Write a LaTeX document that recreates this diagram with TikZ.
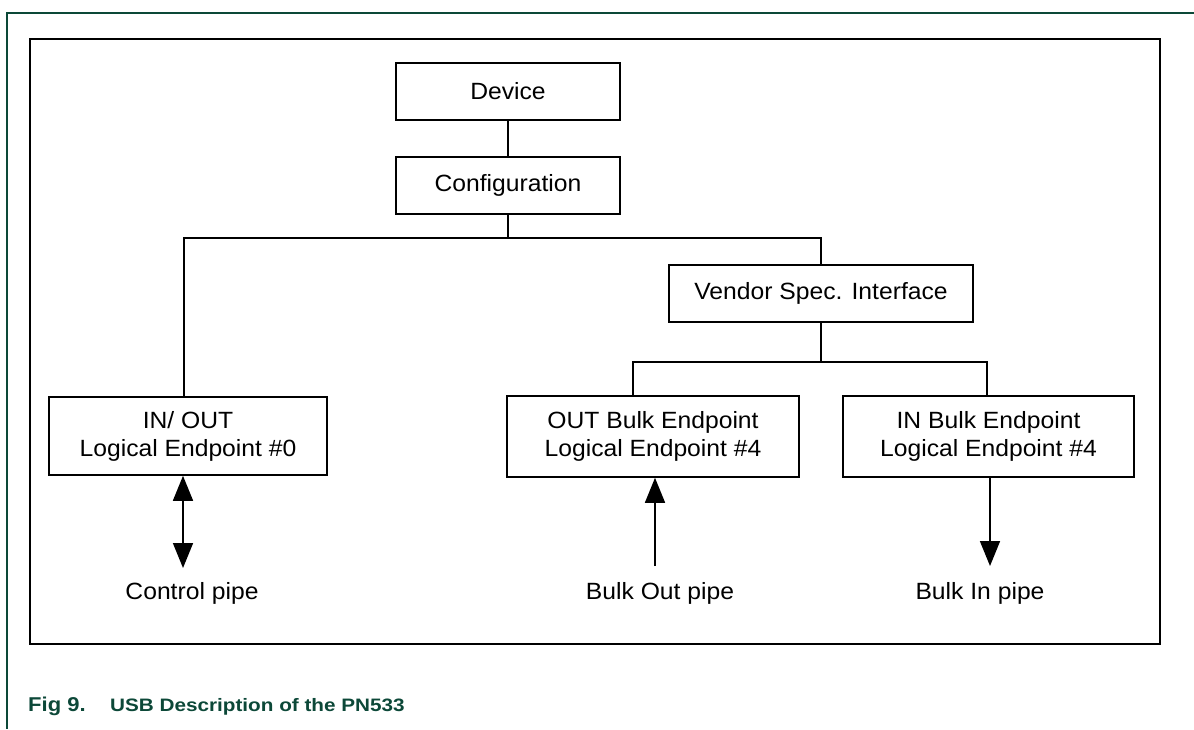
\documentclass[tikz,border=0pt]{standalone}
\usepackage{fontspec}
\setmainfont{Liberation Sans}
\newfontfamily\boxfont[FakeStretch=1.05]{Liberation Sans}
\newfontfamily\figfont[FakeStretch=1.1]{Liberation Sans}
\newfontfamily\capfont[FakeStretch=1.15]{Liberation Sans}
\usetikzlibrary{arrows.meta,positioning,calc}
\definecolor{nxpgreen}{RGB}{12,72,56}
\tikzset{
  usbbox/.style={draw,rectangle,line width=1.6pt,inner sep=0pt,align=center,
    font=\boxfont\fontsize{23.5}{28}\selectfont},
  pipelabel/.style={inner sep=0pt,font=\boxfont\fontsize{23.5}{28}\selectfont},
  link/.style={line width=1.6pt},
  figline/.style={draw=nxpgreen,line width=1.2pt}
}

\begin{document}
\begin{tikzpicture}[x=1pt,y=-1pt,>={Triangle[width=20pt,length=25pt]}]
\useasboundingbox (0,0) rectangle (1194,729);
\draw[figline] (1194,13) -- (7,13) -- (7,729);
\draw[line width=2.6pt] (30,39) rectangle (1160,644);

\node[usbbox,minimum width=224pt,minimum height=57pt] (dev) at (508,91.5) {Device};
\node[usbbox,minimum width=224pt,minimum height=57pt] (conf) at (508,185.5) {Configuration};
\node[usbbox,minimum width=304pt,minimum height=57pt] (vend) at (821,293.5) {Vendor Spec. Interface};
\node[usbbox,minimum width=278pt,minimum height=78pt] (ep0) at (188,436) {IN/ OUT\\Logical Endpoint \#0};
\node[usbbox,minimum width=292pt,minimum height=81pt] (epout) at (653,436.5) {OUT Bulk Endpoint\\Logical Endpoint \#4};
\node[usbbox,minimum width=291pt,minimum height=81pt] (epin) at (988.5,436.5) {IN Bulk Endpoint\\Logical Endpoint \#4};

\node[pipelabel] (ctl) at (192,593) {Control pipe};
\node[pipelabel] (bout) at (660,593) {Bulk Out pipe};
\node[pipelabel] (bin) at (980,593) {Bulk In pipe};

\coordinate (j1) at (508,238);
\coordinate (j2) at (821,362);
\coordinate (ctltip) at (183,568);
\coordinate (bouttail) at (655,566);
\coordinate (bintip) at (990,566);

\path[link]
(dev) edge (conf)
(conf) edge (j1)
(vend) edge (j2);
\draw[link] ([xshift=-4pt]ep0.north) |- (j1) -| (vend.north);
\draw[link] ([xshift=-20pt]epout.north) |- (j2) -| ([xshift=-1.5pt]epin.north);

\draw[link,<->] (ep0.south -| ctltip) -- (ctltip);
\draw[link,->] (bouttail) -- (epout.south -| bouttail);
\draw[link,->] (epin.south -| bintip) -- (bintip);

\node[anchor=base west,inner sep=0pt,text=nxpgreen,font=\figfont\bfseries\fontsize{20}{22}\selectfont] (fig) at (28,711) {Fig 9.};
\node[anchor=base west,inner sep=0pt,text=nxpgreen,font=\capfont\bfseries\fontsize{18}{22}\selectfont] (cap) at (110,711) {USB Description of the PN533};
\end{tikzpicture}
\end{document}
